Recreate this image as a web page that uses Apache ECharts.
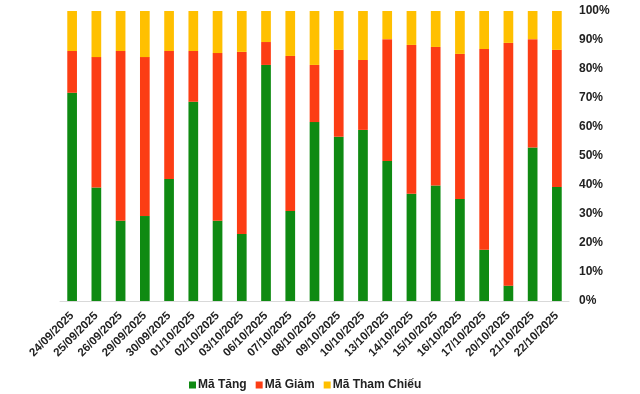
<!DOCTYPE html>
<html><head><meta charset="utf-8">
<script src="https://cdn.jsdelivr.net/npm/echarts@6/dist/echarts.min.js"></script>
<style>html,body{margin:0;padding:0;background:#fff}#c{width:640px;height:394px}</style>
</head><body><div id="c"></div>
<script>
const categories = ["24/09/2025","25/09/2025","26/09/2025","29/09/2025","30/09/2025","01/10/2025","02/10/2025","03/10/2025","06/10/2025","07/10/2025","08/10/2025","09/10/2025","10/10/2025","13/10/2025","14/10/2025","15/10/2025","16/10/2025","17/10/2025","20/10/2025","21/10/2025","22/10/2025"];
const maTang = [71.8,39.1,27.7,29.3,42.1,68.7,27.7,23.1,81.4,31.0,61.7,56.6,59.0,48.3,37.0,39.8,35.2,17.7,5.3,52.9,39.3];
const maGiam = [14.4,45.0,58.5,54.8,44.1,17.5,57.8,62.8,7.9,53.5,19.7,30.0,24.1,42.0,51.3,47.8,50.0,69.2,83.7,37.4,47.3];
const maThamChieu = [13.8,15.9,13.8,15.9,13.8,13.8,14.5,14.1,10.7,15.5,18.6,13.4,16.9,9.7,11.7,12.4,14.8,13.1,11.0,9.7,13.4];
const yTicks = [0,10,20,30,40,50,60,70,80,90,100];

const chart = echarts.init(document.getElementById('c'));
const font = '"Liberation Sans", Arial, sans-serif';
chart.setOption({
  animation: false,
  grid: {left: 60, right: 71, top: 11, bottom: 93},
  legend: {
    top: 379, left: 189, itemWidth: 7, itemHeight: 7, itemGap: 9,
    icon: 'rect', padding: 0,
    textStyle: {fontFamily: font, fontSize: 12, fontWeight: 'bold', color: '#222', padding: [0,0,0,-3]},
    data: ['Mã Tăng','Mã Giảm','Mã Tham Chiếu']
  },
  xAxis: {
    type: 'category', data: categories,
    axisLine: {lineStyle: {color: '#d9d9d9'}},
    axisTick: {show: false},
    axisLabel: {rotate: 45, interval: 0, fontFamily: font, fontSize: 11.5, fontWeight: 'bold', color: '#222', margin: 13}
  },
  yAxis: {
    type: 'value', position: 'right', min: 0, max: 100, interval: 10,
    splitLine: {show: false}, axisLine: {show: false}, axisTick: {show: false},
    axisLabel: {formatter: v => yTicks.includes(v) ? v + '%' : '', fontFamily: font, fontSize: 12, fontWeight: 'bold', color: '#222', margin: 10}
  },
  series: [
    {name: 'Mã Tăng', type: 'bar', stack: 's', data: maTang, barWidth: '40%', itemStyle: {color: '#0F8A12'}},
    {name: 'Mã Giảm', type: 'bar', stack: 's', data: maGiam, barWidth: '40%', itemStyle: {color: '#FC3D14'}},
    {name: 'Mã Tham Chiếu', type: 'bar', stack: 's', data: maThamChieu, barWidth: '40%', itemStyle: {color: '#FFC000'}}
  ]
});
</script></body></html>
